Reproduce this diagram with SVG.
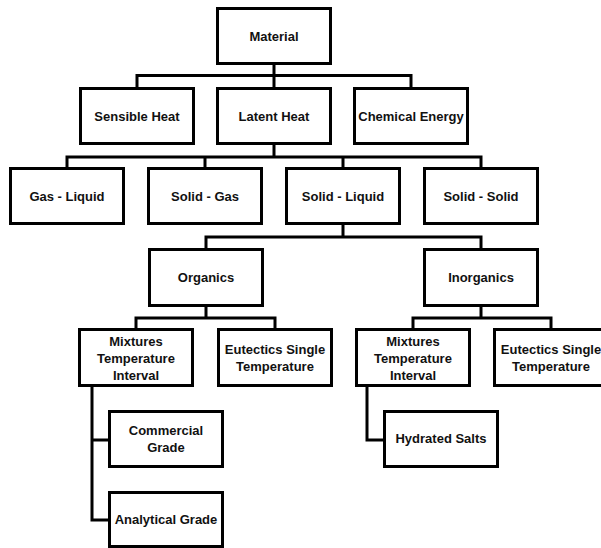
<svg xmlns="http://www.w3.org/2000/svg" width="601" height="548" viewBox="0 0 601 548">
<style>
.box{fill:#fff;stroke:#000;stroke-width:3}
.t{font-family:"Liberation Sans",Arial,sans-serif;font-weight:bold;font-size:13px;fill:#111;text-anchor:middle}
.c{fill:none;stroke:#000;stroke-width:3;stroke-linecap:square}
</style>
<rect width="601" height="548" fill="#fff"/>
<g id="connectors">
<path class="c" d="M274 65V75.5M137 87V75.5H411V87M274 75.5V87"/>
<path class="c" d="M274 145V157M67 167V157H481V167M205 157V167M343 157V167"/>
<path class="c" d="M343 225V237M206 248V237H481V248"/>
<path class="c" d="M206 307V318M136 328V318H275V328"/>
<path class="c" d="M481 307V318M413 328V318H551V328"/>
<path class="c" d="M92 387V520H108M92 440H108"/>
<path class="c" d="M367 387V440H383"/>
</g>
<g id="material"><rect class="box" x="217.5" y="8.5" width="113" height="55"/><text class="t" x="274" y="40.5">Material</text></g>
<g id="sensible"><rect class="box" x="80.5" y="88.5" width="113" height="55"/><text class="t" x="137" y="120.5">Sensible Heat</text></g>
<g id="latent"><rect class="box" x="217.5" y="88.5" width="113" height="55"/><text class="t" x="274" y="120.5">Latent Heat</text></g>
<g id="chemical"><rect class="box" x="354.5" y="88.5" width="113" height="55"/><text class="t" x="411" y="120.5">Chemical Energy</text></g>
<g id="gasliquid"><rect class="box" x="10.5" y="168.5" width="113" height="55"/><text class="t" x="67" y="200.5">Gas - Liquid</text></g>
<g id="solidgas"><rect class="box" x="148.5" y="168.5" width="113" height="55"/><text class="t" x="205" y="200.5">Solid - Gas</text></g>
<g id="solidliquid"><rect class="box" x="286.5" y="168.5" width="113" height="55"/><text class="t" x="343" y="200.5">Solid - Liquid</text></g>
<g id="solidsolid"><rect class="box" x="424.5" y="168.5" width="113" height="55"/><text class="t" x="481" y="200.5">Solid - Solid</text></g>
<g id="organics"><rect class="box" x="149.5" y="249.5" width="113" height="56"/><text class="t" x="206" y="282">Organics</text></g>
<g id="inorganics"><rect class="box" x="424.5" y="249.5" width="113" height="56"/><text class="t" x="481" y="282">Inorganics</text></g>
<g id="mixtures-org"><rect class="box" x="79.5" y="329.5" width="113" height="56"/><text class="t" x="136" y="345.5">Mixtures</text><text class="t" x="136" y="362.5">Temperature</text><text class="t" x="136" y="379.5">Interval</text></g>
<g id="eutectics-org"><rect class="box" x="218.5" y="329.5" width="113" height="56"/><text class="t" x="275" y="353.5">Eutectics Single</text><text class="t" x="275" y="370.5">Temperature</text></g>
<g id="mixtures-inorg"><rect class="box" x="356.5" y="329.5" width="113" height="56"/><text class="t" x="413" y="345.5">Mixtures</text><text class="t" x="413" y="362.5">Temperature</text><text class="t" x="413" y="379.5">Interval</text></g>
<g id="eutectics-inorg"><rect class="box" x="494.5" y="329.5" width="113" height="56"/><text class="t" x="551" y="353.5">Eutectics Single</text><text class="t" x="551" y="370.5">Temperature</text></g>
<g id="commercial"><rect class="box" x="109.5" y="411.5" width="113" height="55"/><text class="t" x="166" y="434.5">Commercial</text><text class="t" x="166" y="451.5">Grade</text></g>
<g id="analytical"><rect class="box" x="109.5" y="492.5" width="113" height="54"/><text class="t" x="166" y="523.5">Analytical Grade</text></g>
<g id="hydrated"><rect class="box" x="384.5" y="411.5" width="113" height="55"/><text class="t" x="441" y="442.5">Hydrated Salts</text></g>
</svg>
